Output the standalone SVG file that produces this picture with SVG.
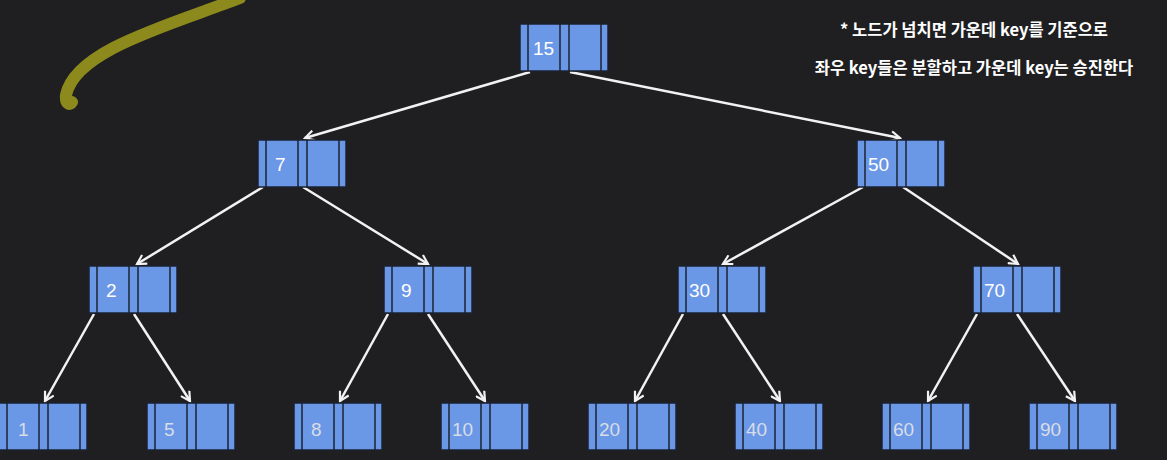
<svg xmlns="http://www.w3.org/2000/svg" width="1167" height="460" viewBox="0 0 1167 460">
<style>
.c{fill:#6a97e6;stroke:#1c2230;stroke-width:1.5}
.t{font-family:"Liberation Sans",sans-serif;font-size:19px;fill:#fff}
.lt{fill:#d8dde6}
.e{stroke:#f2f2f2;stroke-width:2.5;fill:none;marker-end:url(#a)}
.n{font-family:"Noto Sans CJK KR","Noto Sans",sans-serif;font-size:16.5px;fill:#fff;text-anchor:middle;font-weight:bold}
</style>
<defs>
<marker id="a" markerWidth="12" markerHeight="12" refX="10" refY="6" orient="auto" markerUnits="userSpaceOnUse"><path d="M1,1 L10,6 L1,11" fill="none" stroke="#f2f2f2" stroke-width="2.2"/></marker>
<g id="nd"><rect class="c" x="0" y="0" width="88" height="47"/><line x1="8" y1="0" x2="8" y2="47" stroke="#1c2230" stroke-width="1.5"/><line x1="40" y1="0" x2="40" y2="47" stroke="#1c2230" stroke-width="1.5"/><line x1="49" y1="0" x2="49" y2="47" stroke="#1c2230" stroke-width="1.5"/><line x1="81" y1="0" x2="81" y2="47" stroke="#1c2230" stroke-width="1.5"/></g>
</defs>
<rect width="1167" height="460" fill="#1f1f21"/>
<path d="M240,-2 C170,25 75,50 66,95 C65,104 70,106 72,102" stroke="#8c8a1c" stroke-width="12" fill="none" stroke-linecap="round"/>
<text class="n" x="974" y="36">* 노드가 넘치면 가운데 key를 기준으로</text>
<text class="n" x="974" y="74">좌우 key들은 분할하고 가운데 key는 승진한다</text>
<g id="edges">
<line class="e" x1="530" y1="72" x2="305" y2="138"/>
<line class="e" x1="570" y1="72" x2="900" y2="138"/>
<line class="e" x1="263" y1="187" x2="137" y2="264"/>
<line class="e" x1="303" y1="187" x2="428" y2="264"/>
<line class="e" x1="863" y1="187" x2="723" y2="264"/>
<line class="e" x1="903" y1="187" x2="1018" y2="264"/>
<line class="e" x1="94" y1="314" x2="45" y2="401"/>
<line class="e" x1="134" y1="314" x2="190" y2="401"/>
<line class="e" x1="388" y1="314" x2="340" y2="401"/>
<line class="e" x1="428" y1="314" x2="485" y2="401"/>
<line class="e" x1="683" y1="314" x2="635" y2="401"/>
<line class="e" x1="723" y1="314" x2="780" y2="401"/>
<line class="e" x1="977" y1="314" x2="928" y2="401"/>
<line class="e" x1="1017" y1="314" x2="1075" y2="401"/>
</g>
<g id="n15" transform="translate(520,24)"><use href="#nd"/><text class="t" x="13" y="31">15</text></g>
<g id="n7" transform="translate(258,140)"><use href="#nd"/><text class="t" x="17" y="31">7</text></g>
<g id="n50" transform="translate(857,140)"><use href="#nd"/><text class="t" x="11" y="31">50</text></g>
<g id="n2" transform="translate(89,266)"><use href="#nd"/><text class="t" x="17" y="31">2</text></g>
<g id="n9" transform="translate(384,266)"><use href="#nd"/><text class="t" x="17" y="31">9</text></g>
<g id="n30" transform="translate(678,266)"><use href="#nd"/><text class="t" x="11" y="31">30</text></g>
<g id="n70" transform="translate(973,266)"><use href="#nd"/><text class="t" x="11" y="31">70</text></g>
<g id="n1" transform="translate(-1,403)"><use href="#nd"/><text class="t lt" x="19" y="33">1</text></g>
<g id="n5" transform="translate(147,403)"><use href="#nd"/><text class="t lt" x="17" y="33">5</text></g>
<g id="n8" transform="translate(294,403)"><use href="#nd"/><text class="t lt" x="17" y="33">8</text></g>
<g id="n10" transform="translate(441,403)"><use href="#nd"/><text class="t lt" x="11" y="33">10</text></g>
<g id="n20" transform="translate(588,403)"><use href="#nd"/><text class="t lt" x="11" y="33">20</text></g>
<g id="n40" transform="translate(735,403)"><use href="#nd"/><text class="t lt" x="11" y="33">40</text></g>
<g id="n60" transform="translate(882,403)"><use href="#nd"/><text class="t lt" x="11" y="33">60</text></g>
<g id="n90" transform="translate(1029,403)"><use href="#nd"/><text class="t lt" x="11" y="33">90</text></g>
</svg>
